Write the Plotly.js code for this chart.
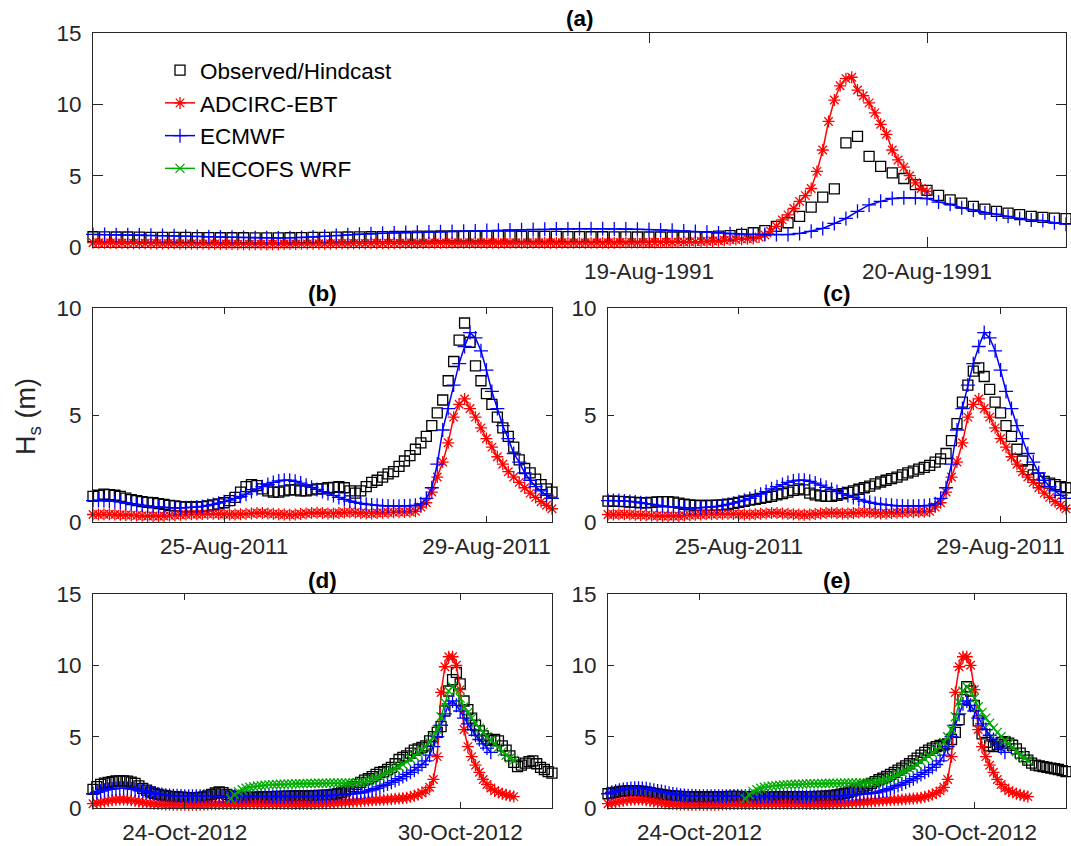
<!DOCTYPE html>
<html>
<head>
<meta charset="utf-8">
<script src="https://cdn.plot.ly/plotly-3.0.1.min.js"></script>
<style>
html,body{margin:0;padding:0;background:#ffffff;}
#chart{width:1071px;height:846px;}
</style>
</head>
<body>
<div id="chart"></div>
<script>
// ===================== DATA =====================
const panelTitles = ['(a)', '(b)', '(c)', '(d)', '(e)'];
const seriesNames = ['Observed/Hindcast', 'ADCIRC-EBT', 'ECMWF', 'NECOFS WRF'];
const yLabel = 'H<sub>s</sub> (m)';

// ---- Panel (a): 17-Aug-1991 00:00 .. 20-Aug-1991 12:00 ----
const rangeA = ['1991-08-17 00:00', '1991-08-20 12:00'];
const tickValsA = ['1991-08-19', '1991-08-20'];
const tickTextA = ['19-Aug-1991', '20-Aug-1991'];
const startA = '1991-08-17T00:00:00Z';
// hourly
const obsA = [0.72,0.71,0.70,0.70,0.69,0.68,0.68,0.67,0.67,0.66,
  0.66,0.65,0.65,0.65,0.64,0.64,0.64,0.65,0.66,0.67,
  0.68,0.69,0.70,0.71,0.72,0.73,0.74,0.75,0.76,0.76,
  0.77,0.77,0.77,0.77,0.77,0.76,0.76,0.75,0.75,0.74,
  0.74,0.73,0.73,0.72,0.72,0.71,0.71,0.70,0.70,0.70,
  0.70,0.70,0.71,0.73,0.76,0.80,0.88,1.00,1.15,1.45,
  1.70,2.15,2.80,3.50,4.07,7.30,7.75,6.35,5.65,5.20,
  4.80,4.37,3.97,3.62,3.30,3.08,2.85,2.66,2.50,2.38,
  2.27,2.15,2.08,2.03,1.99];
// every 30 minutes
const adcircA = [0.30,0.30,0.29,0.29,0.28,0.28,0.27,0.27,0.26,0.26,0.25,0.25,0.24,0.24,0.24,0.23,0.23,0.23,0.22,0.22,0.22,
  0.22,0.21,0.21,0.21,0.20,0.20,0.20,0.20,0.20,0.20,0.20,0.20,0.21,0.21,0.21,0.22,0.22,0.22,0.23,0.23,
  0.23,0.24,0.24,0.24,0.25,0.25,0.25,0.26,0.26,0.26,0.27,0.27,0.27,0.28,0.28,0.28,0.28,0.29,0.29,0.29,
  0.29,0.30,0.30,0.30,0.30,0.30,0.30,0.30,0.30,0.30,0.30,0.30,0.30,0.30,0.30,0.30,0.30,0.30,0.30,0.30,
  0.30,0.30,0.30,0.30,0.30,0.30,0.30,0.30,0.30,0.30,0.31,0.31,0.31,0.31,0.32,0.32,0.32,0.33,0.33,0.33,
  0.34,0.35,0.36,0.37,0.38,0.40,0.42,0.44,0.47,0.50,0.53,0.55,
  0.57,0.60,0.70,0.85,1.10,1.45,1.90,2.25,2.70,3.20,3.60,4.10,5.30,6.80,8.80,10.3,
  11.3,11.8,11.9,11.0,10.6,10.1,9.40,8.60,7.90,6.80,6.10,5.60,5.00,4.50,4.10,3.90];
// hourly
const ecmwfA = [0.88,0.87,0.86,0.85,0.84,0.82,0.80,0.78,0.76,0.74,
  0.72,0.70,0.68,0.66,0.65,0.64,0.63,0.64,0.66,0.70,
  0.75,0.80,0.85,0.90,0.93,0.96,0.99,1.01,1.03,1.05,
  1.07,1.09,1.11,1.13,1.15,1.17,1.19,1.21,1.23,1.24,
  1.26,1.27,1.28,1.28,1.28,1.27,1.26,1.24,1.22,1.20,
  1.17,1.13,1.08,1.03,0.98,0.93,0.90,0.88,0.87,0.87,
  0.87,0.95,1.10,1.30,1.65,2.00,2.50,2.95,3.20,3.40,
  3.45,3.45,3.40,3.15,3.00,2.75,2.60,2.40,2.30,2.15,
  2.00,1.90,1.85,1.70,1.60];

// ---- Panels (b),(c): 23-Aug-2011 .. 30-Aug-2011, 2-hourly ----
const rangeBC = ['2011-08-23 00:00', '2011-08-30 00:00'];
const tickValsBC = ['2011-08-25', '2011-08-29'];
const tickTextBC = ['25-Aug-2011', '29-Aug-2011'];
const startBC = '2011-08-23T00:00:00Z';
const obsB = [1.20,1.25,1.30,1.28,1.25,1.20,1.12,1.05,1.00,0.95,
  0.92,0.90,0.86,0.82,0.78,0.75,0.72,0.70,0.70,0.70,
  0.72,0.75,0.80,0.85,0.90,1.00,1.15,1.40,1.65,1.75,
  1.70,1.55,1.45,1.40,1.40,1.45,1.50,1.50,1.45,1.45,
  1.50,1.55,1.55,1.60,1.62,1.65,1.60,1.45,1.35,1.45,
  1.65,1.85,1.95,2.10,2.25,2.35,2.60,2.85,3.10,3.40,
  3.70,4.00,4.50,5.10,5.70,6.60,7.50,8.50,9.30,8.40,
  7.30,6.60,6.00,5.50,4.90,4.40,4.00,3.50,2.90,2.50,
  2.30,2.00,1.75,1.55,1.40];
const obsC = [0.98,0.97,0.96,0.95,0.93,0.92,0.90,0.90,0.92,0.94,
  0.95,0.95,0.93,0.88,0.83,0.80,0.78,0.77,0.77,0.78,
  0.79,0.80,0.83,0.87,0.92,0.97,1.02,1.06,1.10,1.15,
  1.20,1.27,1.33,1.40,1.48,1.55,1.50,1.35,1.27,1.22,
  1.20,1.20,1.25,1.32,1.38,1.45,1.53,1.60,1.68,1.78,
  1.87,1.95,2.03,2.10,2.20,2.30,2.38,2.47,2.55,2.65,
  2.80,2.95,3.20,3.80,4.60,5.60,6.40,7.05,7.20,6.80,
  6.20,5.60,5.10,4.50,4.00,3.40,2.85,2.45,2.20,2.05,
  1.90,1.82,1.75,1.65,1.60];
const adcircBC = [0.35,0.35,0.36,0.36,0.35,0.34,0.33,0.32,0.30,0.29,
  0.28,0.28,0.27,0.28,0.30,0.32,0.34,0.35,0.36,0.36,
  0.37,0.38,0.38,0.37,0.36,0.35,0.35,0.36,0.38,0.40,
  0.42,0.42,0.40,0.38,0.36,0.35,0.34,0.35,0.37,0.40,
  0.42,0.43,0.42,0.40,0.40,0.42,0.44,0.45,0.44,0.42,
  0.40,0.40,0.42,0.43,0.44,0.45,0.46,0.47,0.48,0.50,
  0.70,0.90,1.40,2.10,2.80,3.70,4.90,5.50,5.75,5.30,
  4.90,4.40,3.90,3.50,3.05,2.70,2.35,2.10,1.85,1.60,
  1.35,1.15,0.95,0.78,0.62];
const ecmwfBC = [1.00,1.00,1.00,0.98,0.96,0.94,0.90,0.86,0.82,0.78,
  0.75,0.72,0.70,0.68,0.67,0.66,0.66,0.67,0.68,0.70,
  0.73,0.77,0.82,0.88,0.95,1.02,1.10,1.20,1.30,1.42,
  1.55,1.65,1.75,1.85,1.92,1.95,1.95,1.90,1.82,1.72,
  1.62,1.52,1.42,1.33,1.24,1.15,1.06,0.98,0.92,0.87,
  0.83,0.80,0.78,0.76,0.75,0.74,0.74,0.75,0.76,0.78,
  0.85,1.10,1.60,2.70,4.30,5.30,6.40,7.40,8.20,8.85,
  8.60,8.00,7.10,6.10,5.30,4.50,3.90,3.20,2.80,2.30,
  1.95,1.65,1.45,1.25,1.10];

// ---- Panels (d),(e): 22-Oct-2012 .. 01-Nov-2012, 2-hourly ----
const rangeDE = ['2012-10-22 00:00', '2012-11-01 00:00'];
const tickValsDE = ['2012-10-24', '2012-10-30'];
const tickTextDE = ['24-Oct-2012', '30-Oct-2012'];
const startDE = '2012-10-22T00:00:00Z';
const startNecofs = '2012-10-25T00:00:00Z';
const obsD = [1.30,1.50,1.65,1.75,1.80,1.85,1.90,1.90,1.90,1.88,
  1.82,1.72,1.55,1.38,1.25,1.12,1.02,0.95,0.90,0.85,
  0.82,0.80,0.78,0.76,0.74,0.73,0.72,0.72,0.74,0.78,
  0.85,0.95,1.05,1.12,1.08,0.95,0.85,0.80,0.78,0.76,
  0.75,0.75,0.76,0.77,0.78,0.79,0.80,0.80,0.81,0.82,
  0.82,0.83,0.83,0.84,0.84,0.85,0.85,0.86,0.87,0.88,
  0.88,0.90,0.92,0.95,1.00,1.10,1.20,1.35,1.50,1.65,
  1.80,1.95,2.05,2.20,2.35,2.50,2.55,2.70,2.85,3.10,
  3.40,3.55,3.65,3.85,4.05,4.15,4.25,4.35,4.70,5.00,
  5.30,5.70,6.80,8.20,9.00,9.50,8.70,7.50,6.90,6.30,
  5.80,5.40,5.05,4.85,4.75,4.80,4.70,4.35,4.05,3.65,
  3.20,2.90,3.00,3.15,3.25,3.30,3.10,2.85,2.70,2.55,
  2.45];
const obsE = [1.00,1.05,1.10,1.15,1.18,1.20,1.22,1.22,1.20,1.17,
  1.13,1.08,1.03,0.98,0.94,0.90,0.87,0.85,0.83,0.82,
  0.80,0.79,0.78,0.78,0.77,0.77,0.77,0.77,0.78,0.79,
  0.80,0.80,0.81,0.81,0.81,0.80,0.80,0.80,0.80,0.80,
  0.80,0.80,0.80,0.80,0.80,0.80,0.80,0.80,0.80,0.80,
  0.80,0.80,0.80,0.80,0.80,0.81,0.82,0.83,0.85,0.88,
  0.92,0.97,1.03,1.10,1.18,1.27,1.37,1.48,1.60,1.72,
  1.85,1.98,2.10,2.22,2.35,2.50,2.65,2.80,2.95,3.10,
  3.30,3.50,3.70,3.90,4.05,4.20,4.30,4.38,4.42,4.50,
  4.80,5.30,6.20,7.60,8.50,8.20,7.20,6.10,5.20,4.60,
  4.35,4.30,4.45,4.60,4.65,4.55,4.40,4.15,3.85,3.60,
  3.35,3.15,3.00,2.95,2.90,2.85,2.80,2.75,2.70,2.62,
  2.55];
const adcircDE = [0.30,0.35,0.40,0.45,0.50,0.55,0.58,0.60,0.60,0.58,
  0.55,0.50,0.45,0.40,0.36,0.32,0.30,0.28,0.26,0.25,
  0.24,0.23,0.22,0.22,0.22,0.22,0.22,0.23,0.23,0.24,
  0.25,0.26,0.27,0.28,0.28,0.28,0.28,0.28,0.28,0.28,
  0.29,0.30,0.30,0.30,0.30,0.30,0.30,0.30,0.30,0.30,
  0.30,0.29,0.28,0.28,0.28,0.28,0.28,0.28,0.29,0.30,
  0.31,0.32,0.33,0.34,0.36,0.38,0.40,0.42,0.44,0.46,
  0.48,0.50,0.52,0.54,0.56,0.57,0.58,0.60,0.62,0.64,
  0.66,0.68,0.72,0.78,0.85,0.95,1.05,1.20,1.45,2.00,
  3.60,8.10,9.90,10.6,10.6,10.0,8.30,5.50,4.30,3.60,
  3.00,2.50,2.00,1.65,1.40,1.20,1.10,1.00,0.92,0.86,
  0.80];
const ecmwfDE = [1.00,1.10,1.18,1.25,1.30,1.34,1.37,1.38,1.38,1.37,
  1.35,1.30,1.25,1.20,1.15,1.10,1.04,0.98,0.94,0.90,
  0.88,0.86,0.85,0.84,0.83,0.83,0.83,0.83,0.83,0.83,
  0.83,0.83,0.84,0.84,0.84,0.83,0.82,0.82,0.81,0.81,
  0.80,0.80,0.80,0.80,0.80,0.80,0.80,0.80,0.80,0.80,
  0.80,0.80,0.80,0.80,0.80,0.80,0.80,0.80,0.80,0.81,
  0.82,0.84,0.87,0.90,0.92,0.94,0.96,0.98,1.00,1.03,
  1.07,1.13,1.20,1.28,1.38,1.48,1.58,1.68,1.80,1.92,
  2.05,2.20,2.35,2.50,2.65,2.85,3.05,3.30,3.70,4.30,
  5.00,5.80,6.60,7.30,7.50,7.20,6.80,6.30,5.90,5.50,
  5.10,4.80,4.50,4.20,3.90];
const necofsDE = [0.65,0.95,1.15,1.28,1.38,1.45,1.50,1.54,1.57,1.60,
  1.62,1.64,1.65,1.66,1.67,1.68,1.69,1.70,1.70,1.71,
  1.72,1.72,1.73,1.73,1.74,1.74,1.75,1.75,1.75,1.75,
  1.75,1.75,1.76,1.77,1.80,1.84,1.90,1.97,2.08,2.20,
  2.35,2.50,2.62,2.75,2.90,3.05,3.25,3.45,3.65,3.85,
  4.05,4.30,4.60,5.00,5.50,6.40,7.40,8.20,8.50,8.30,
  7.70,7.10,6.70,6.30,5.95,5.60,5.30,5.00,4.75,4.50,
  4.25,3.95,3.70,3.50,3.35];

// ===================== RENDERING =====================
function times(startIso, stepHours, n) {
  const t0 = Date.parse(startIso);
  const out = [];
  for (let i = 0; i < n; i++) out.push(t0 + i * stepHours * 3600000);
  return out;
}

const FONT = '"Liberation Sans", Arial, Helvetica, sans-serif';
const AX = '#262626';
const W = 1071, H = 846;

const styles = {
  obs: {name: seriesNames[0], legendgroup: 'obs', mode: 'markers',
        marker: {symbol: 'square-open', size: 10, color: '#000000', line: {width: 1.3, color: '#000000'}}},
  adc: {name: seriesNames[1], legendgroup: 'adc', mode: 'lines+markers',
        line: {color: '#ff0000', width: 1.5},
        marker: {symbol: 'asterisk-open', size: 10, color: '#ff0000', line: {width: 1.3, color: '#ff0000'}}},
  ecm: {name: seriesNames[2], legendgroup: 'ecm', mode: 'lines+markers',
        line: {color: '#0000ff', width: 1.5},
        marker: {symbol: 'cross-thin-open', size: 10, color: '#0000ff', line: {width: 1.3, color: '#0000ff'}}},
  nec: {name: seriesNames[3], legendgroup: 'nec', mode: 'lines+markers',
        line: {color: '#00aa00', width: 1.5},
        marker: {symbol: 'x-thin-open', size: 9, color: '#00aa00', line: {width: 1.3, color: '#00aa00'}}}
};

function tr(kind, startIso, step, ys, axIdx, showLegend) {
  const s = styles[kind];
  const suf = axIdx === 1 ? '' : String(axIdx);
  return Object.assign({}, JSON.parse(JSON.stringify(s)), {
    type: 'scatter', x: times(startIso, step, ys.length), y: ys,
    xaxis: 'x' + suf, yaxis: 'y' + suf, showlegend: showLegend, cliponaxis: false,
    hoverinfo: 'skip'
  });
}

const traces = [
  tr('obs', startA, 1, obsA, 1, true),
  tr('adc', startA, 0.5, adcircA, 1, true),
  tr('ecm', startA, 1, ecmwfA, 1, true),
  tr('obs', startBC, 2, obsB, 2, false),
  tr('adc', startBC, 2, adcircBC, 2, false),
  tr('ecm', startBC, 2, ecmwfBC, 2, false),
  tr('obs', startBC, 2, obsC, 3, false),
  tr('adc', startBC, 2, adcircBC, 3, false),
  tr('ecm', startBC, 2, ecmwfBC, 3, false),
  tr('obs', startDE, 2, obsD, 4, false),
  tr('adc', startDE, 2, adcircDE, 4, false),
  tr('ecm', startDE, 2, ecmwfDE, 4, false),
  tr('nec', startNecofs, 2, necofsDE, 4, true),
  tr('obs', startDE, 2, obsE, 5, false),
  tr('adc', startDE, 2, adcircDE, 5, false),
  tr('ecm', startDE, 2, ecmwfDE, 5, false),
  tr('nec', startNecofs, 2, necofsDE, 5, false)
];

// panel boxes in pixels: [left, right, top, bottom]
const boxes = [
  [93, 1066, 33, 247],
  [93, 552, 308, 522],
  [608, 1066, 308, 522],
  [93, 552, 594, 808],
  [608, 1066, 594, 808]
];
const xRanges = [rangeA, rangeBC, rangeBC, rangeDE, rangeDE];
const xTickVals = [tickValsA, tickValsBC, tickValsBC, tickValsDE, tickValsDE];
const xTickText = [tickTextA, tickTextBC, tickTextBC, tickTextDE, tickTextDE];
const yRanges = [[0, 15], [0, 10], [0, 10], [0, 15], [0, 15]];
const yTicks = [[0, 5, 10, 15], [0, 5, 10], [0, 5, 10], [0, 5, 10, 15], [0, 5, 10, 15]];
const tickLens = [10, 6, 6, 6, 6];

const layout = {
  width: W, height: H,
  margin: {l: 0, r: 0, t: 0, b: 0},
  paper_bgcolor: '#ffffff', plot_bgcolor: '#ffffff',
  font: {family: FONT, size: 22.5, color: AX},
  showlegend: true,
  legend: {x: 160 / W, y: 1 - 49 / H, xanchor: 'left', yanchor: 'top',
           bgcolor: 'rgba(0,0,0,0)', borderwidth: 0, traceorder: 'grouped', tracegroupgap: 0.5,
           font: {family: FONT, size: 22.5, color: '#000000'}},
  annotations: [],
  hovermode: false
};

boxes.forEach((b, i) => {
  const suf = i === 0 ? '' : String(i + 1);
  const xa = 'xaxis' + suf, ya = 'yaxis' + suf;
  layout[xa] = {
    type: 'date', domain: [b[0] / W, b[1] / W], range: xRanges[i],
    anchor: 'y' + suf, tickmode: 'array', tickvals: xTickVals[i], ticktext: xTickText[i],
    ticks: 'inside', ticklen: tickLens[i], tickwidth: 1, tickcolor: AX,
    showline: true, linecolor: AX, linewidth: 1, mirror: 'ticks',
    showgrid: false, zeroline: false, fixedrange: true,
    tickfont: {family: FONT, size: 22.5, color: AX}, ticklabelstandoff: 4
  };
  layout[ya] = {
    domain: [1 - b[3] / H, 1 - b[2] / H], range: yRanges[i],
    anchor: 'x' + suf, tickmode: 'array', tickvals: yTicks[i],
    ticks: 'inside', ticklen: tickLens[i], tickwidth: 1, tickcolor: AX,
    showline: true, linecolor: AX, linewidth: 1, mirror: 'ticks',
    showgrid: false, zeroline: false, fixedrange: true,
    tickfont: {family: FONT, size: 22.5, color: AX}, ticklabelstandoff: 6
  };
  layout.annotations.push({
    text: '<b>' + panelTitles[i] + '</b>', xref: 'paper', yref: 'paper',
    x: (b[0] + b[1]) / 2 / W, y: 1 - (b[2] - 14) / H, xanchor: 'center', yanchor: 'middle',
    showarrow: false, font: {family: FONT, size: 22.5, color: '#000000'}
  });
});

// shared y-axis label (placed beside panel (b))
layout.annotations.push({
  text: yLabel, xref: 'paper', yref: 'paper', x: 28 / W, y: 1 - 417 / H,
  xanchor: 'center', yanchor: 'middle', textangle: -90, showarrow: false,
  font: {family: FONT, size: 27, color: AX}
});

Plotly.newPlot('chart', traces, layout, {displayModeBar: false, staticPlot: true});
</script>
</body>
</html>
